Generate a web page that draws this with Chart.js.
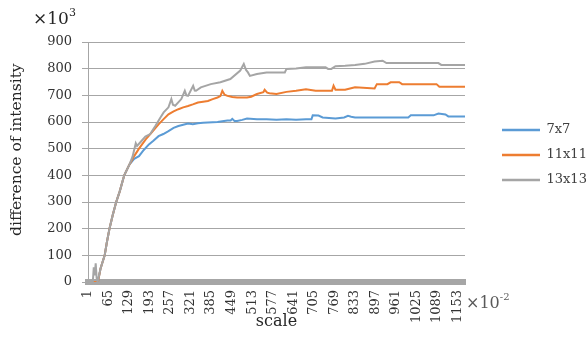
<!DOCTYPE html>
<html>
<head>
<meta charset="utf-8">
<script src="https://cdn.jsdelivr.net/npm/chart.js@4.4.1/dist/chart.umd.min.js"></script>
<style>
  html, body { margin: 0; padding: 0; background: #fff; }
  #wrap { width: 588px; height: 343px; }
</style>
</head>
<body>
<div id="wrap"><canvas id="diffChart" width="588" height="343"></canvas></div>
<script>
// scale (x10^-2) vs difference of intensity (x10^3)
const seriesNames = ["7x7", "11x11", "13x13"];
const xTickLabels = [1, 65, 129, 193, 257, 321, 385, 449, 513, 577, 641, 705, 769, 833, 897, 961, 1025, 1089, 1153];

const scale7 = [1, 20, 32, 40, 53, 60, 68, 78, 89, 100, 114, 130, 145, 160, 175, 191, 205, 221, 236, 252, 268, 283, 298, 313, 328, 344, 360, 375, 405, 420, 436, 446, 451, 458, 466, 482, 497, 528, 558, 589, 620, 650, 681, 698, 702, 720, 733, 773, 800, 812, 822, 834, 1000, 1008, 1079, 1094, 1116, 1125, 1177];
const diff7 = [0, 0, 0, 50, 100, 150, 200, 250, 300, 340, 400, 440, 462, 472, 495, 516, 530, 547, 555, 566, 578, 585, 590, 594, 592, 595, 597, 598, 600, 603, 606, 606, 612, 604, 604, 608, 613, 610, 610, 608, 610, 608, 610, 610, 625, 624, 617, 613, 617, 623, 620, 617, 617, 625, 625, 632, 628, 621, 621];

const scale11 = [1, 20, 32, 40, 53, 60, 68, 78, 89, 100, 114, 130, 145, 160, 181, 200, 221, 236, 252, 268, 283, 298, 313, 328, 344, 360, 375, 390, 405, 414, 420, 427, 436, 451, 466, 497, 510, 528, 548, 552, 560, 567, 589, 620, 650, 681, 711, 762, 767, 773, 803, 834, 895, 902, 935, 945, 972, 981, 1088, 1097, 1177];
const diff11 = [0, 0, 0, 50, 100, 150, 200, 250, 300, 340, 400, 440, 472, 500, 535, 561, 591, 610, 629, 640, 648, 655, 660, 666, 673, 676, 679, 686, 692, 697, 717, 702, 698, 694, 692, 692, 695, 705, 712, 721, 710, 708, 705, 713, 717, 723, 717, 717, 736, 721, 721, 730, 726, 742, 742, 749, 749, 742, 742, 732, 732];

const scale13 = [1, 16, 19, 22, 25, 28, 31, 40, 53, 60, 68, 78, 89, 100, 114, 130, 140, 150, 154, 165, 180, 195, 211, 227, 237, 252, 261, 266, 273, 292, 303, 308, 313, 329, 334, 338, 353, 384, 414, 445, 476, 487, 494, 500, 506, 528, 558, 615, 620, 650, 681, 742, 750, 760, 773, 803, 834, 864, 895, 920, 932, 1094, 1103, 1177];
const diff13 = [0, 0, 55, 25, 70, 15, 0, 50, 100, 150, 200, 250, 300, 340, 400, 440, 470, 520, 510, 525, 545, 555, 585, 617, 636, 655, 686, 665, 661, 686, 717, 700, 698, 736, 718, 717, 730, 742, 749, 761, 793, 818, 795, 786, 773, 780, 786, 786, 799, 801, 805, 805, 799, 799, 809, 811, 814, 818, 827, 830, 821, 821, 814, 814];

const seriesColors = ["#5b9bd5", "#ed7d31", "#a5a5a5"];

function toPoints(xs, ys) {
  return xs.map((x, i) => ({ x: x, y: ys[i] }));
}

function makeSet(i, xs, ys, order) {
  return {
    label: seriesNames[i],
    data: toPoints(xs, ys),
    borderColor: seriesColors[i],
    backgroundColor: seriesColors[i],
    pointBorderColor: seriesColors[i],
    pointBackgroundColor: seriesColors[i],
    pointBorderWidth: 2.5,
    order: order
  };
}

const serif = "'DejaVu Serif', 'Liberation Serif', serif";

// the little "x10^n" unit notes
const unitNotes = {
  id: "unitNotes",
  afterDraw(chart) {
    const ctx = chart.ctx;
    const a = chart.chartArea;
    ctx.save();
    ctx.textBaseline = "alphabetic";
    ctx.textAlign = "left";
    // y unit
    ctx.fillStyle = "#262626";
    ctx.font = "17px " + serif;
    let x = a.left - 55, y = a.top - 18;
    ctx.fillText("\u00d710", x, y);
    let w = ctx.measureText("\u00d710").width;
    ctx.font = "11px " + serif;
    ctx.fillText("3", x + w, y - 8);
    // x unit
    ctx.fillStyle = "#595959";
    ctx.font = "16px " + serif;
    x = a.right + 1; y = a.bottom + 26;
    ctx.fillText("\u00d710", x, y);
    w = ctx.measureText("\u00d710").width;
    ctx.font = "10px " + serif;
    ctx.fillText("-2", x + w, y - 8);
    ctx.restore();
  }
};

new Chart(document.getElementById("diffChart"), {
  type: "line",
  data: {
    datasets: [
      makeSet(0, scale7, diff7, 2),
      makeSet(1, scale11, diff11, 1),
      makeSet(2, scale13, diff13, 0)
    ]
  },
  options: {
    responsive: false,
    animation: false,
    devicePixelRatio: 1,
    layout: { padding: { top: 42, right: 0, bottom: 0, left: 0 } },
    elements: {
      point: { radius: 0 },
      line: { borderWidth: 2, tension: 0 }
    },
    plugins: {
      tooltip: { enabled: false },
      legend: {
        position: "right",
        align: "start",
        fullSize: false,
        // empty title only used as a spacer above the items
        title: { display: true, text: " ", font: { size: 10 }, padding: { top: 0, bottom: 57.5 } },
        labels: {
          usePointStyle: true,
          pointStyle: "line",
          pointStyleWidth: 38,
          padding: 12,
          color: "#404040",
          font: { family: serif, size: 13 },
          sort: (a, b) => a.datasetIndex - b.datasetIndex
        }
      }
    },
    scales: {
      x: {
        type: "linear",
        min: 1,
        max: 1177,
        afterBuildTicks: (s) => { s.ticks = xTickLabels.map(v => ({ value: v })); },
        afterFit: (s) => { s.height = 61; },
        grid: { display: false, drawTicks: false, tickLength: 0 },
        border: { display: true, color: "#a6a6a6", width: 6 },
        ticks: {
          autoSkip: false,
          minRotation: 90,
          maxRotation: 90,
          padding: 8,
          color: "#333333",
          font: { family: serif, size: 13 },
          callback: (v) => String(v)
        },
        title: {
          display: true,
          text: "scale",
          color: "#262626",
          padding: 12,
          font: { family: serif, size: 16 }
        }
      },
      y: {
        min: 0,
        max: 900,
        afterFit: (s) => { s.width = 88; },
        grid: { color: "#a6a6a6", lineWidth: 1, tickLength: 6 },
        border: { display: true, color: "#a6a6a6", width: 1 },
        ticks: {
          stepSize: 100,
          padding: 10,
          color: "#333333",
          font: { family: serif, size: 13 }
        },
        title: {
          display: true,
          text: "     difference of intensity",
          color: "#262626",
          padding: 8,
          font: { family: serif, size: 15.5 }
        }
      },
      gap: {
        position: "right",
        display: true,
        afterFit: (s) => { s.width = 25; },
        grid: { display: false },
        border: { display: false },
        ticks: { display: false }
      }
    }
  },
  plugins: [unitNotes]
});
</script>
</body>
</html>
